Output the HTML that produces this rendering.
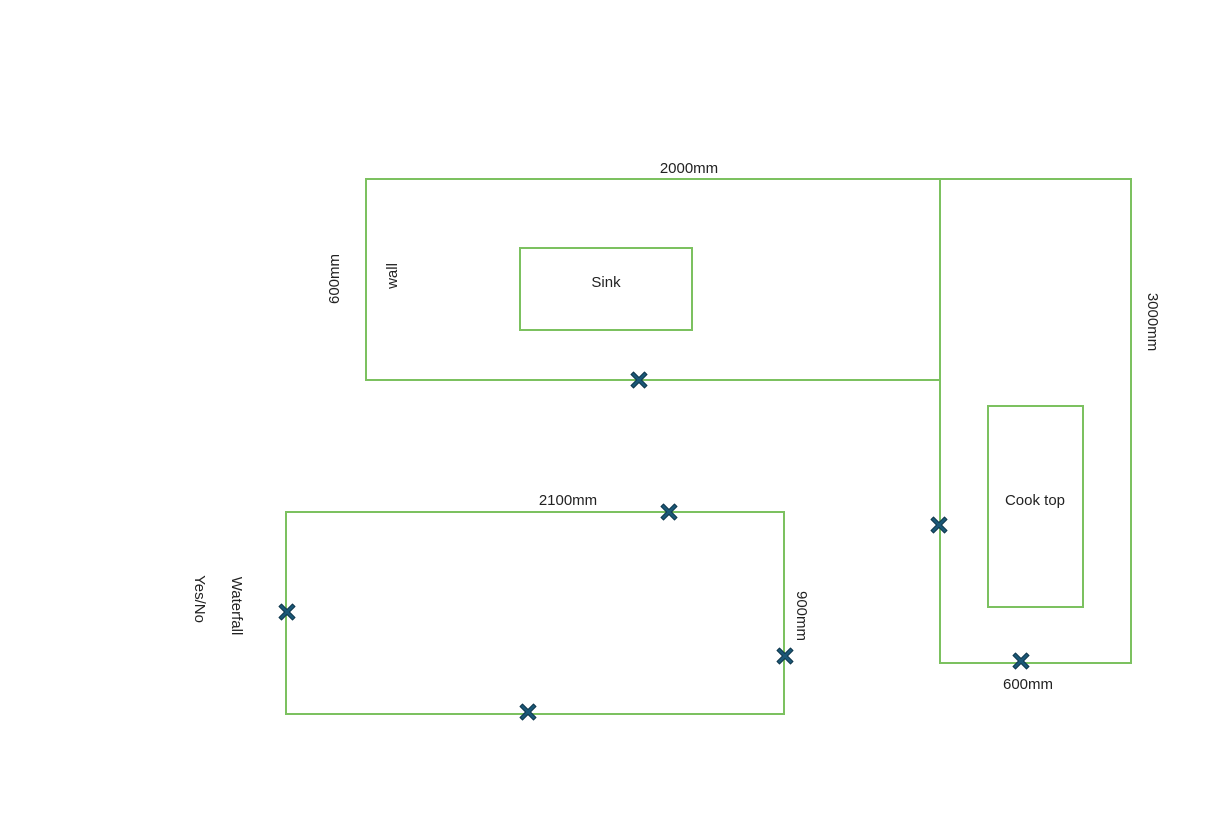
<!DOCTYPE html>
<html><head><meta charset="utf-8"><style>
html,body{margin:0;padding:0;background:#fff;}
svg{display:block;}
text{font-family:"Liberation Sans",sans-serif;font-size:15px;fill:#222;}
</style></head><body>
<svg width="1215" height="829" viewBox="0 0 1215 829" xmlns="http://www.w3.org/2000/svg">
<defs>
<g id="x">
<path d="M-5.5,-8 L0,-2.5 L5.5,-8 L8,-5.5 L2.5,0 L8,5.5 L5.5,8 L0,2.5 L-5.5,8 L-8,5.5 L-2.5,0 L-8,-5.5 Z" fill="#1b5877" stroke="#10384d" stroke-width="1" stroke-linejoin="round"/>
</g>
</defs>
<g fill="none" stroke="#7cc160" stroke-width="2">
<rect x="366" y="179" width="574" height="201"/>
<rect x="940" y="179" width="191" height="484"/>
<rect x="520" y="248" width="172" height="82"/>
<rect x="988" y="406" width="95" height="201"/>
<rect x="286" y="512" width="498" height="202"/>
</g>
<text x="689" y="173" text-anchor="middle">2000mm</text>
<text x="606" y="287" text-anchor="middle">Sink</text>
<text x="1035" y="505" text-anchor="middle">Cook top</text>
<text x="1028" y="689" text-anchor="middle">600mm</text>
<text x="568" y="505" text-anchor="middle">2100mm</text>
<text transform="translate(339,279) rotate(-90)" text-anchor="middle">600mm</text>
<text transform="translate(397,276) rotate(-90)" text-anchor="middle">wall</text>
<text transform="translate(1148,322) rotate(90)" text-anchor="middle">3000mm</text>
<text transform="translate(797,616) rotate(90)" text-anchor="middle">900mm</text>
<text transform="translate(232,606) rotate(90)" text-anchor="middle">Waterfall</text>
<text transform="translate(195,599) rotate(90)" text-anchor="middle">Yes/No</text>
<use href="#x" x="639" y="380"/>
<use href="#x" x="939" y="525"/>
<use href="#x" x="1021" y="661"/>
<use href="#x" x="669" y="512"/>
<use href="#x" x="287" y="612"/>
<use href="#x" x="785" y="656"/>
<use href="#x" x="528" y="712"/>
</svg>
</body></html>
